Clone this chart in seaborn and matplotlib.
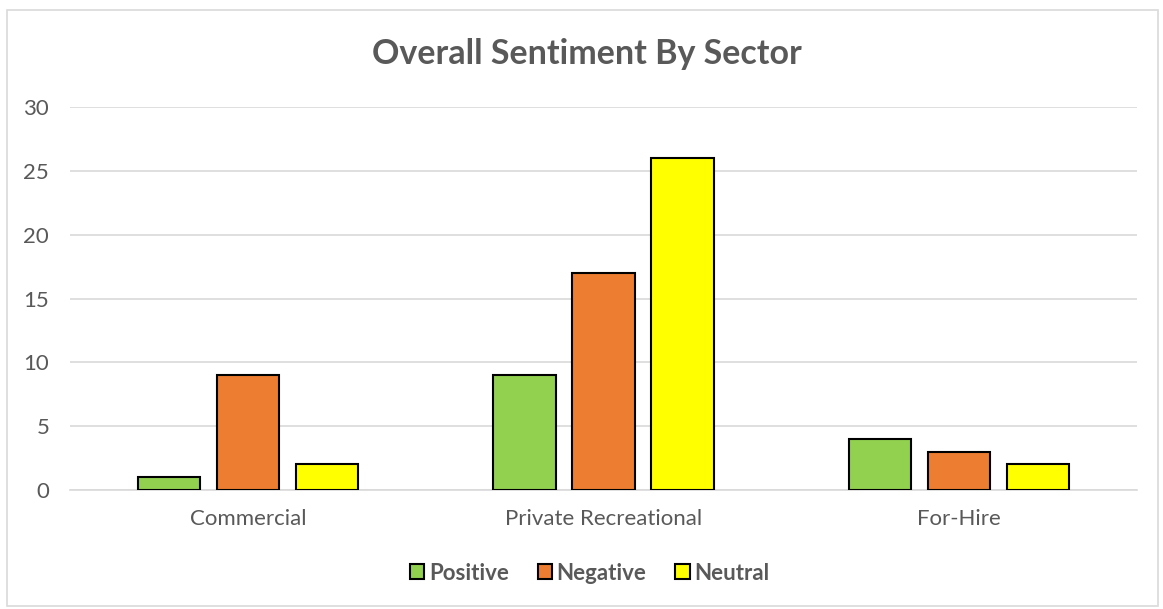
import matplotlib
matplotlib.use("Agg")
import matplotlib.pyplot as plt
import seaborn as sns
import pandas as pd
from matplotlib.patches import Rectangle, Patch

sectors = ["Commercial", "Private Recreational", "For-Hire"]
sentiments = ["Positive", "Negative", "Neutral"]
positive = [1, 9, 4]
negative = [9, 17, 3]
neutral = [2, 26, 2]
colors = ["#92D050", "#ED7D31", "#FFFF00"]

rows = []
for s, vals in zip(sentiments, [positive, negative, neutral]):
    for sec, v in zip(sectors, vals):
        rows.append({"Sector": sec, "Sentiment": s, "Count": v})
df = pd.DataFrame(rows)

sns.set_theme(style="white")
plt.rcParams["font.family"] = ["Lato", "DejaVu Sans"]

fig = plt.figure(figsize=(11.63, 6.09), dpi=100)
ax = fig.add_axes([0.0602, 0.1954, 0.9174, 0.6289])

sns.barplot(data=df, x="Sector", y="Count", hue="Sentiment", order=sectors,
            hue_order=sentiments, palette=colors, saturation=1, width=0.667, gap=0.21,
            edgecolor="black", linewidth=1.5, ax=ax, legend=False, zorder=3)

ax.set_ylim(0, 30)
ax.set_yticks(range(0, 31, 5))
ax.set_xlim(-0.5, 2.5)
ax.yaxis.grid(True, color="#D9D9D9", linewidth=1.2, zorder=0)
ax.set_axisbelow(True)
for sp in ["top", "right", "left"]:
    ax.spines[sp].set_visible(False)
ax.spines["bottom"].set_color("#D9D9D9")
ax.spines["bottom"].set_linewidth(1.2)
ax.set_xlabel("")
ax.set_ylabel("")
ax.tick_params(axis="both", length=0, colors="#595959", labelsize=16)
ax.tick_params(axis="y", pad=15)
ax.tick_params(axis="x", pad=14)

fig.text(0.505, 0.912, "Overall Sentiment By Sector", ha="center", va="center",
         fontsize=24.5, fontweight="bold", color="#595959")

handles = [Patch(facecolor=c, edgecolor="black", linewidth=1.5, label=l)
           for c, l in zip(colors, sentiments)]
leg = fig.legend(handles=handles, loc="center", bbox_to_anchor=(0.507, 0.059),
                 ncol=3, frameon=False, handlelength=0.65, handleheight=0.65,
                 handletextpad=0.2, columnspacing=1.3,
                 prop={"weight": "bold", "size": 16})
for t in leg.get_texts():
    t.set_color("#595959")

fig.patches.append(Rectangle((0.006, 0.005), 0.99, 0.978, transform=fig.transFigure,
                             fill=False, edgecolor="#D9D9D9", linewidth=1.2))

fig.savefig("out.png", dpi=100, facecolor="white")
